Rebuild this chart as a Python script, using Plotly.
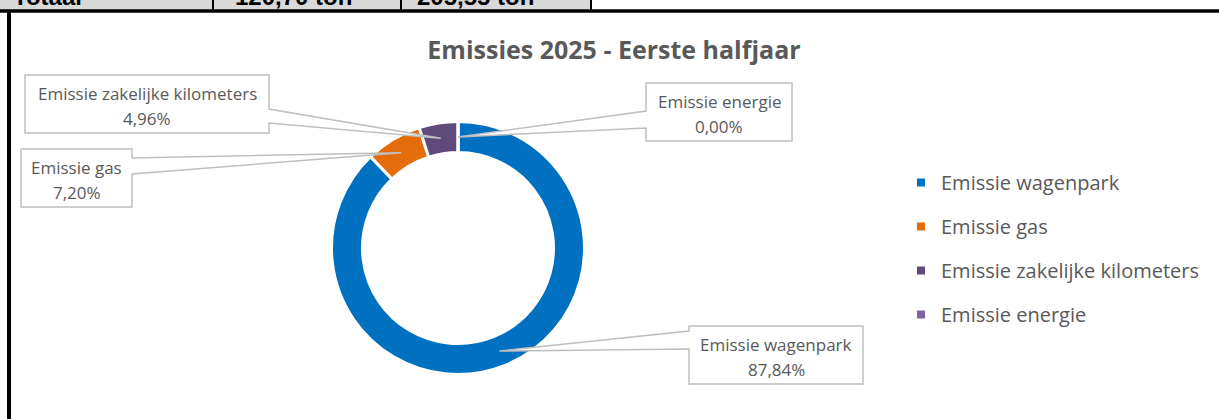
import math
import plotly.graph_objects as go

W, H = 1219, 419

# ---- data ----
categories = ["Emissie wagenpark", "Emissie gas", "Emissie zakelijke kilometers", "Emissie energie"]
shares = [87.84, 7.20, 4.96, 0.00]
colors = ["#0070C0", "#E46C0A", "#604A7B", "#8064A2"]
title_text = "Emissies 2025 - Eerste halfjaar"
table_cells = ["Totaal", "120,70 ton", "205,55 ton"]

FONT = "Open Sans"
GREY_TXT = "#595959"
BOX_LINE = "#BFBFBF"


def px(x):
    return x / W


def py(y):
    return 1 - y / H


# donut geometry (pixels)
cx, cy = 458, 248
R_out, R_in = 126.5, 95.5
r_mid = 111

fig = go.Figure()
fig.add_trace(go.Pie(
    labels=categories, values=shares, sort=False, direction="clockwise", rotation=0,
    hole=R_in / R_out, marker=dict(colors=colors, line=dict(color="white", width=3)),
    textinfo="none", hoverinfo="label+percent", showlegend=False,
    domain=dict(x=[px(cx - R_out), px(cx + R_out)], y=[py(cy + R_out), py(cy - R_out)]),
))

# legend via marker-only traces (one group each for spacing)
for name, col in zip(categories, colors):
    fig.add_trace(go.Scatter(x=[None], y=[None], mode="markers", name=name,
                             legendgroup=name,
                             marker=dict(symbol="square", size=8, color=col)))

# label boxes: (x0, y0, x1, y1, base_y_top, base_y_bottom, side)
boxes = {
    "Emissie zakelijke kilometers": (25, 75, 269, 133, 109, 123, "right"),
    "Emissie gas": (21, 149, 132, 207, 158, 174, "right"),
    "Emissie energie": (646, 83, 792, 141, 111, 128, "left"),
    "Emissie wagenpark": (689, 326, 863, 384, 331, 349, "left"),
}

shapes = []
annotations = []
total = sum(shares)
cum = 0.0
for name, val in zip(categories, shares):
    mid = (cum + val / 2) / total
    cum += val
    ang = 2 * math.pi * mid
    tx = cx + r_mid * math.sin(ang)
    ty = cy - r_mid * math.cos(ang)
    x0, y0, x1, y1, b1, b2, side = boxes[name]
    if side == "right":
        pts = [(x0, y0), (x1, y0), (x1, b1), (tx, ty), (x1, b2), (x1, y1), (x0, y1)]
    else:
        pts = [(x0, y0), (x1, y0), (x1, y1), (x0, y1), (x0, b2), (tx, ty), (x0, b1)]
    path = "M " + " L ".join(f"{px(a):.5f},{py(b):.5f}" for a, b in pts) + " Z"
    shapes.append(dict(type="path", xref="paper", yref="paper", path=path,
                       fillcolor="white", line=dict(color=BOX_LINE, width=1.5), layer="above"))
    xc = (x0 + x1) / 2
    pct = f"{val:.2f}".replace(".", ",") + "%"
    annotations.append(dict(x=px(xc), y=py(y0 + 18.5), xref="paper", yref="paper", text=name,
                            showarrow=False, xanchor="center", yanchor="middle",
                            font=dict(family=FONT, size=17, color=GREY_TXT)))
    annotations.append(dict(x=px(xc), y=py(y0 + 43.5), xref="paper", yref="paper", text=pct,
                            showarrow=False, xanchor="center", yanchor="middle",
                            font=dict(family=FONT, size=17, color=GREY_TXT)))

# top table strip + sheet borders
shapes.append(dict(type="rect", xref="paper", yref="paper", x0=px(0), x1=px(591), y0=py(10), y1=py(-2),
                   fillcolor="#D9D9D9", line=dict(width=0), layer="below"))
for xv in (213, 401, 591):
    shapes.append(dict(type="line", xref="paper", yref="paper", x0=px(xv), x1=px(xv), y0=py(-2), y1=py(10),
                       line=dict(color="black", width=2)))
shapes.append(dict(type="line", xref="paper", yref="paper", x0=px(0), x1=px(W), y0=py(11), y1=py(11),
                   line=dict(color="black", width=3.5)))
shapes.append(dict(type="line", xref="paper", yref="paper", x0=px(9), x1=px(9), y0=py(11), y1=py(H + 2),
                   line=dict(color="black", width=4)))
for txt, xl in zip(table_cells, (11, 233, 415)):
    annotations.append(dict(x=px(xl), y=py(-3.5), xref="paper", yref="paper", text=f"<b>{txt}</b>",
                            showarrow=False, xanchor="left", yanchor="middle",
                            font=dict(family="Liberation Sans", size=24, color="black")))

fig.update_layout(
    width=W, height=H, margin=dict(l=0, r=0, t=0, b=0),
    paper_bgcolor="white", plot_bgcolor="white",
    title=dict(text=f"<b>{title_text}</b>", x=px(614), y=py(50), xanchor="center", yanchor="middle",
               xref="paper", yref="container",
               font=dict(family=FONT, size=25, color=GREY_TXT)),
    xaxis=dict(visible=False), yaxis=dict(visible=False),
    showlegend=True,
    legend=dict(x=px(901), y=py(163), xanchor="left", yanchor="top",
                font=dict(family=FONT, size=20, color=GREY_TXT),
                tracegroupgap=15, itemclick=False, itemdoubleclick=False),
    shapes=shapes, annotations=annotations,
)

fig.write_html("out.html", config={"displayModeBar": False},
               post_script="document.body.style.margin='0px';")
